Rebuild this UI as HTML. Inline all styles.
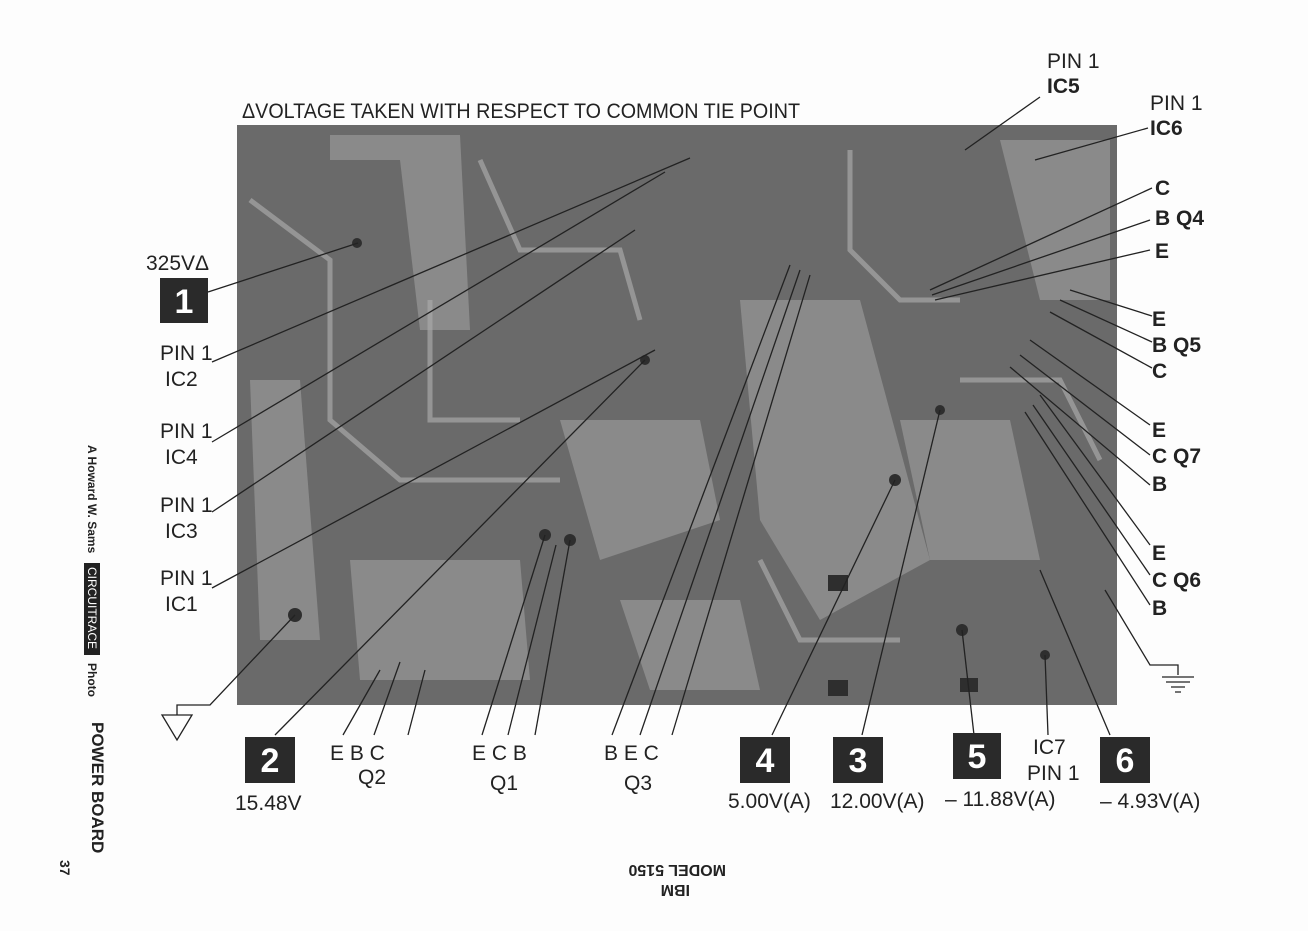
<!DOCTYPE html>
<html><head><meta charset="utf-8"><style>
html,body{margin:0;padding:0;background:#fff;}
svg{display:block}
text{font-family:"Liberation Sans Narrow","Liberation Sans",sans-serif;fill:#222}
</style></head><body>
<svg width="1308" height="931" viewBox="0 0 1308 931" xmlns="http://www.w3.org/2000/svg">
<rect width="1308" height="931" fill="#fdfdfd"/>
<rect x="237" y="125" width="880" height="580" fill="#6a6a6a"/>
<g fill="#959595" opacity="0.75">
<path d="M330 135 L460 135 L470 330 L420 330 L400 160 L330 160Z"/>
<path d="M250 380 L300 380 L320 640 L260 640Z"/>
<path d="M560 420 L700 420 L720 520 L600 560Z"/>
<path d="M740 300 L860 300 L930 560 L820 620 L760 520Z"/>
<path d="M900 420 L1010 420 L1040 560 L930 560Z"/>
<path d="M620 600 L740 600 L760 690 L650 690Z"/>
<path d="M350 560 L520 560 L530 680 L360 680Z"/>
<path d="M1000 140 L1110 140 L1110 300 L1040 300Z"/>
</g>
<g fill="none" stroke="#a8a8a8" stroke-width="5" opacity="0.7">
<path d="M250 200 L330 260 L330 420 L400 480 L560 480"/>
<path d="M480 160 L520 250 L620 250 L640 320"/>
<path d="M760 560 L800 640 L900 640"/>
<path d="M850 150 L850 250 L900 300 L960 300"/>
<path d="M960 380 L1060 380 L1100 460"/>
<path d="M430 300 L430 420 L520 420"/>
</g>
<g fill="#2e2e2e">
<circle cx="357" cy="243" r="5"/><circle cx="645" cy="360" r="5"/><circle cx="545" cy="535" r="6"/>
<circle cx="570" cy="540" r="6"/><circle cx="895" cy="480" r="6"/><circle cx="940" cy="410" r="5"/>
<circle cx="962" cy="630" r="6"/><circle cx="1045" cy="655" r="5"/><circle cx="295" cy="615" r="7"/>
<rect x="828" y="575" width="20" height="16"/><rect x="828" y="680" width="20" height="16"/>
<rect x="960" y="678" width="18" height="14"/>
</g>
<text x="242" y="118" font-size="21" textLength="558" lengthAdjust="spacingAndGlyphs">ΔVOLTAGE TAKEN WITH RESPECT TO COMMON TIE POINT</text>
<g stroke="#222" stroke-width="1.3" fill="none">
<path d="M208 292 L358 243"/>
<path d="M212 362 L690 158"/>
<path d="M212 442 L665 172"/>
<path d="M212 512 L635 230"/>
<path d="M212 588 L655 350"/>
<path d="M275 735 L645 360"/>
<path d="M343 735 L380 670"/><path d="M374 735 L400 662"/><path d="M408 735 L425 670"/>
<path d="M482 735 L545 535"/><path d="M508 735 L556 545"/><path d="M535 735 L570 540"/>
<path d="M612 735 L790 265"/><path d="M640 735 L800 270"/><path d="M672 735 L810 275"/>
<path d="M772 735 L895 480"/><path d="M862 735 L940 410"/><path d="M974 735 L962 630"/>
<path d="M1048 735 L1045 655"/><path d="M1110 735 L1040 570"/>
<path d="M1040 97 L965 150"/><path d="M1148 128 L1035 160"/>
<path d="M1152 188 L930 290"/><path d="M1150 220 L932 295"/><path d="M1150 250 L935 300"/>
<path d="M1152 316 L1070 290"/><path d="M1152 342 L1060 300"/><path d="M1152 368 L1050 312"/>
<path d="M1150 425 L1030 340"/><path d="M1150 455 L1020 355"/><path d="M1150 485 L1010 367"/>
<path d="M1150 545 L1040 395"/><path d="M1150 575 L1033 405"/><path d="M1150 605 L1025 412"/>
<path d="M1105 590 L1150 665 L1178 665 L1178 675"/>
<path d="M1162 677 L1194 677 M1166 682 L1190 682 M1171 687 L1185 687 M1175 692 L1181 692"/>
<path d="M295 615 L210 705 L177 705 L177 715"/>
<path d="M162 715 L192 715 L177 740 Z"/>
</g>
<g fill="#2a2a2a">
<rect x="160" y="278" width="48" height="45"/>
<rect x="245" y="737" width="50" height="46"/>
<rect x="740" y="737" width="50" height="46"/>
<rect x="833" y="737" width="50" height="46"/>
<rect x="953" y="733" width="48" height="46"/>
<rect x="1100" y="737" width="50" height="46"/>
</g>
<g font-size="34" font-weight="bold" text-anchor="middle">
<text x="184" y="313" style="fill:#fff">1</text>
<text x="270" y="772" style="fill:#fff">2</text>
<text x="765" y="772" style="fill:#fff">4</text>
<text x="858" y="772" style="fill:#fff">3</text>
<text x="977" y="768" style="fill:#fff">5</text>
<text x="1125" y="772" style="fill:#fff">6</text>
</g>
<g font-size="21">
<text x="146" y="270">325VΔ</text>
<text x="160" y="360">PIN 1</text><text x="165" y="386">IC2</text>
<text x="160" y="438">PIN 1</text><text x="165" y="464">IC4</text>
<text x="160" y="512">PIN 1</text><text x="165" y="538">IC3</text>
<text x="160" y="585">PIN 1</text><text x="165" y="611">IC1</text>
<text x="235" y="810">15.48V</text>
<text x="330" y="760">E  B  C</text><text x="358" y="784">Q2</text>
<text x="472" y="760">E C B</text><text x="490" y="790">Q1</text>
<text x="604" y="760">B  E  C</text><text x="624" y="790">Q3</text>
<text x="728" y="808">5.00V(A)</text>
<text x="830" y="808">12.00V(A)</text>
<text x="945" y="806">– 11.88V(A)</text>
<text x="1033" y="754">IC7</text><text x="1027" y="780">PIN 1</text>
<text x="1100" y="808">– 4.93V(A)</text>
<text x="1047" y="68">PIN 1</text><text x="1047" y="93" font-weight="bold">IC5</text>
<text x="1150" y="110">PIN 1</text><text x="1150" y="135" font-weight="bold">IC6</text>
<text x="1155" y="195" font-weight="bold">C</text>
<text x="1155" y="225" font-weight="bold">B  Q4</text>
<text x="1155" y="258" font-weight="bold">E</text>
<text x="1152" y="326" font-weight="bold">E</text>
<text x="1152" y="352" font-weight="bold">B  Q5</text>
<text x="1152" y="378" font-weight="bold">C</text>
<text x="1152" y="437" font-weight="bold">E</text>
<text x="1152" y="463" font-weight="bold">C  Q7</text>
<text x="1152" y="491" font-weight="bold">B</text>
<text x="1152" y="560" font-weight="bold">E</text>
<text x="1152" y="587" font-weight="bold">C  Q6</text>
<text x="1152" y="615" font-weight="bold">B</text>
</g>
<g transform="translate(88,445) rotate(90)">
<text x="0" y="0" font-size="12" font-weight="bold">A Howard W. Sams</text>
<rect x="118" y="-12" width="92" height="16" fill="#222"/>
<text x="122" y="0" font-size="12" style="fill:#fff">CIRCUITRACE</text>
<text x="218" y="0" font-size="12" font-weight="bold">Photo</text>
</g>
<g transform="translate(92,722) rotate(90)"><text font-size="17" font-weight="bold">POWER BOARD</text></g>
<g transform="translate(60,860) rotate(90)"><text font-size="14" font-weight="bold">37</text></g>
<g transform="translate(660,860) rotate(180)">
<text x="-66" y="-5" font-size="16" font-weight="bold">MODEL 5150</text>
<text x="-30" y="-25" font-size="16" font-weight="bold">IBM</text>
</g>
</svg>
</body></html>
